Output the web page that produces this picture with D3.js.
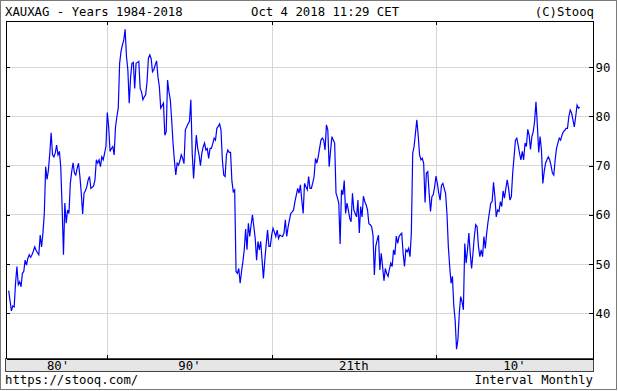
<!DOCTYPE html>
<html>
<head>
<meta charset="utf-8">
<title>XAUXAG</title>
<style>
  body { margin: 0; background: #fff; }
  svg text { font-family: "DejaVu Sans Mono", "Liberation Mono", monospace; font-size: 12.3px; fill: #000; }
  .grid line { stroke: #d6d6d6; shape-rendering: crispEdges; }
  .frame path, .frame line { stroke: #000; shape-rendering: crispEdges; }
  .line { fill: none; stroke: #0000ff; stroke-width: 1.2; }
</style>
</head>
<body>
<svg id="chart" width="618" height="391"></svg>
<script src="https://cdn.jsdelivr.net/npm/d3@7"></script>
<script>
  // monthly gold/silver ratio (Jan 1984 .. Oct 2018)
  const values80s = [
    44.6, 42.5, 40.5, 41.5, 41.3, 46.1, 49.5, 45.8, 46.4, 45.4, 48.1, 48.5, // 1984
    50.8, 49.8, 51.2, 51.9, 51.4, 51.9, 52.6, 53.5, 52.8, 52.3, 51.9, 55.9, // 1985
    53.5, 56.3, 60.3, 69.8, 67.2, 69.1, 72.5, 76.7, 72.2, 71.8, 72.6, 74.2, // 1986
    72.2, 72.9, 69.8, 61.7, 51.9, 62.4, 58.3, 61.0, 60.3, 66.4, 68.8, 70.6, // 1987
    68.5, 68.1, 69.5, 70.5, 67.8, 64.4, 60.2, 64.4, 64.9, 65.7, 67.1, 67.8, // 1988
    65.4, 65.6, 65.9, 67.1, 71.2, 70.5, 71.2, 69.8, 71.8, 71.2, 72.5, 73.9  // 1989
  ];
  const values90s = [
    80.8, 77.9, 72.9, 73.5, 73.9, 72.2, 77.9, 80.0, 81.7, 90.8, 93.2, 94.5, // 1990
    95.5, 97.7, 92.2, 89.5, 82.7, 88.0, 90.8, 91.0, 85.7, 90.8, 91.0, 91.2, // 1991
    85.7, 85.0, 83.4, 84.0, 84.4, 87.0, 91.8, 92.5, 91.8, 89.1, 89.5, 90.5, // 1992
    91.3, 88.0, 86.1, 81.7, 82.2, 82.7, 76.2, 76.9, 87.4, 85.0, 83.4, 79.3, // 1993
    74.6, 71.0, 68.1, 70.5, 70.1, 71.0, 72.2, 71.5, 70.4, 77.3, 77.9, 78.5, // 1994
    79.0, 83.4, 72.5, 67.4, 72.0, 76.2, 73.5, 72.2, 70.0, 72.5, 73.8, 74.6, // 1995
    73.2, 73.5, 71.5, 73.5, 73.5, 74.5, 75.6, 75.2, 77.6, 78.0, 78.5, 77.3, // 1996
    71.2, 68.1, 67.8, 72.2, 73.2, 72.7, 72.7, 66.8, 64.7, 65.1, 48.5, 48.1, // 1997
    49.1, 46.1, 48.5, 50.5, 52.9, 57.1, 52.9, 58.3, 55.6, 58.0, 60.0, 57.6, // 1998
    55.2, 50.8, 54.6, 52.9, 54.6, 50.8, 47.1, 50.8, 54.0, 56.9, 53.6, 53.6  // 1999
  ];
  const values00s = [
    55.9, 57.3, 56.5, 55.6, 56.9, 55.2, 55.9, 55.7, 55.6, 56.3, 59.0, 55.6, // 2000
    57.5, 59.0, 60.3, 60.6, 61.0, 62.7, 64.0, 65.4, 64.4, 66.1, 63.0, 60.3, // 2001
    66.4, 65.7, 65.1, 67.8, 65.4, 65.4, 66.5, 67.8, 71.5, 70.5, 71.8, 73.5, // 2002
    75.2, 75.6, 75.2, 73.2, 78.3, 77.3, 69.8, 73.0, 75.9, 75.2, 74.6, 64.4, // 2003
    63.5, 62.4, 54.1, 65.1, 64.1, 67.0, 60.3, 62.4, 61.0, 59.3, 58.6, 64.4, // 2004
    61.0, 60.3, 59.6, 63.0, 56.3, 61.7, 59.6, 63.8, 62.7, 62.0, 61.0, 58.2, // 2005
    58.0, 57.6, 55.9, 47.8, 53.6, 54.8, 55.9, 48.8, 52.2, 49.5, 46.6, 49.1, // 2006
    48.1, 47.5, 49.0, 50.2, 49.5, 52.9, 51.9, 55.7, 54.2, 55.6, 56.0, 56.3, // 2007
    52.2, 49.5, 52.9, 52.5, 53.2, 51.5, 56.3, 72.5, 73.9, 76.6, 79.3, 76.2, // 2008
    72.2, 71.2, 71.5, 70.5, 62.5, 68.5, 68.8, 64.4, 60.7, 63.7, 64.1, 65.7  // 2009
  ];
  const values10s = [
    67.9, 66.4, 64.4, 63.0, 66.0, 66.4, 65.4, 64.4, 60.3, 53.6, 49.5, 46.1, // 2010
    47.5, 41.5, 38.6, 32.7, 34.6, 40.0, 43.4, 42.4, 40.7, 54.2, 50.2, 52.9, // 2011
    56.3, 52.2, 49.1, 52.2, 55.6, 58.0, 57.6, 53.6, 51.5, 52.9, 51.5, 55.6, // 2012
    53.2, 56.3, 58.6, 60.5, 62.4, 62.7, 66.6, 63.7, 59.6, 61.0, 60.7, 62.7, // 2013
    61.7, 64.9, 63.4, 65.4, 67.1, 65.4, 63.0, 63.7, 68.5, 71.8, 75.2, 75.6, // 2014
    74.2, 72.5, 71.2, 72.9, 71.2, 74.6, 73.9, 77.4, 76.2, 73.3, 75.9, 76.9, // 2015
    79.0, 83.0, 78.3, 72.7, 75.9, 73.2, 66.4, 68.8, 70.5, 71.2, 71.8, 71.2, // 2016
    70.0, 68.5, 68.1, 71.2, 73.5, 74.6, 75.6, 75.2, 76.2, 76.9, 77.2, 77.6, // 2017
    77.6, 80.0, 81.3, 80.7, 79.3, 77.9, 80.0, 82.3, 81.7, 81.9              // 2018
  ];
  const startYear = 1984;
  const yTicks = [40, 50, 60, 70, 80, 90];
  const decadeYears = [1990, 2000, 2010];
  const bandEdges = [1984, 1990, 2000, 2010, 2019.55];
  const bandLabels = ["80'", "90'", "21th", "10'"];

  const monthly = [...values80s, ...values90s, ...values00s, ...values10s]
    .map((v, i) => ({ t: startYear + i / 12, v: v }));

  const svg = d3.select("#chart");
  const plotL = 6, plotR = 593, plotT = 20.5, plotB = 358.5;

  const x = d3.scaleLinear().domain([1983.836, 2019.553]).range([plotL, plotR]);
  const y = d3.scaleLinear().domain([30.81, 99.51]).range([plotB, plotT]);
  const px = v => Math.floor(v) + 0.5;

  // outer frame
  svg.append("rect")
    .attr("x", 0.5).attr("y", 0.5).attr("width", 616).attr("height", 389)
    .attr("fill", "#fff").attr("stroke", "#7a7a7a");

  // grid
  const grid = svg.append("g").attr("class", "grid");
  grid.selectAll(".h").data(yTicks).enter().append("line")
    .attr("x1", plotL).attr("x2", plotR)
    .attr("y1", d => px(y(d))).attr("y2", d => px(y(d)));
  grid.selectAll(".v").data(decadeYears).enter().append("line")
    .attr("y1", plotT).attr("y2", plotB)
    .attr("x1", d => Math.round(x(d)) + 0.5).attr("x2", d => Math.round(x(d)) + 0.5);

  // x band under the plot
  svg.append("rect")
    .attr("x", plotL - 0.5).attr("y", plotB).attr("width", plotR - plotL + 0.5).attr("height", 13)
    .attr("fill", "#e6e6e6").attr("stroke", "#444").attr("shape-rendering", "crispEdges");

  svg.selectAll(".band-label").data(bandLabels).enter().append("text")
    .attr("class", "band-label")
    .attr("x", (d, i) => (x(bandEdges[i]) + x(bandEdges[i + 1])) / 2)
    .attr("y", 369.5)
    .attr("text-anchor", "middle")
    .text(d => d);

  // the series
  svg.append("path")
    .datum(monthly)
    .attr("class", "line")
    .attr("d", d3.line().x(d => x(d.t)).y(d => y(d.v)));

  // axes (ticks point inward)
  svg.append("g").attr("class", "frame")
    .attr("transform", `translate(0,${plotT})`)
    .call(d3.axisTop(x).tickValues(decadeYears).tickSizeInner(-4).tickSizeOuter(0).tickFormat(""))
    .select(".domain").attr("stroke", "#555");

  svg.append("g").attr("class", "frame")
    .attr("transform", `translate(0,${plotB})`)
    .call(d3.axisBottom(x).tickValues(decadeYears).tickSizeInner(-4).tickSizeOuter(0).tickFormat(""));

  svg.append("g").attr("class", "frame")
    .attr("transform", `translate(${plotL - 0.5},0)`)
    .call(d3.axisRight(y).tickValues(yTicks).tickSizeInner(4).tickSizeOuter(0).tickFormat(""));

  const yAxis = svg.append("g").attr("class", "frame")
    .attr("transform", `translate(${plotR - 0.5},0)`)
    .call(d3.axisRight(y).tickValues(yTicks).tickSizeInner(-4).tickSizeOuter(0).tickPadding(3));
  yAxis.selectAll("text")
    .attr("font-family", "DejaVu Sans Mono").attr("font-size", "12.3px").attr("fill", "#000");
  yAxis.selectAll(".tick line").attr("x2", -4);

  // header and footer texts
  svg.append("text").attr("x", 5).attr("y", 16).text("XAUXAG - Years 1984-2018");
  svg.append("text").attr("x", 251).attr("y", 16).text("Oct 4 2018 11:29 CET");
  svg.append("text").attr("x", 594).attr("y", 16).attr("text-anchor", "end").text("(C)Stooq");
  svg.append("text").attr("x", 5).attr("y", 384).text("https://stooq.com/");
  svg.append("text").attr("x", 593).attr("y", 384).attr("text-anchor", "end").text("Interval Monthly");
</script>
</body>
</html>
